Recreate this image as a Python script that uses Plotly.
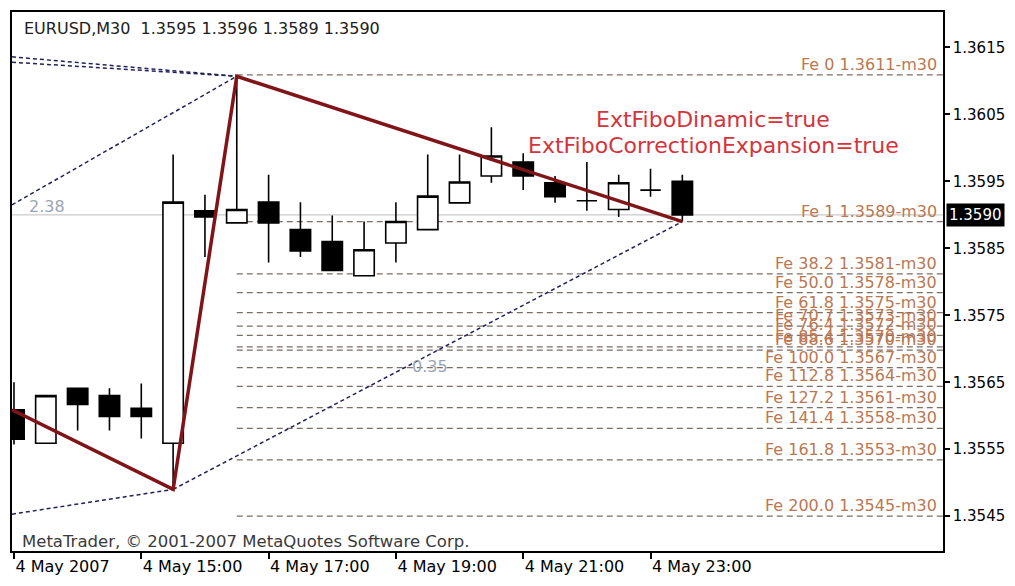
import plotly.graph_objects as go

# ---------------- data ----------------
times = ["13:00", "13:30", "14:00", "14:30", "15:00", "15:30", "16:00", "16:30",
         "17:00", "17:30", "18:00", "18:30", "19:00", "19:30", "20:00", "20:30",
         "21:00", "21:30", "22:00", "22:30", "23:00", "23:30"]
opens = [1.35609, 1.35559, 1.35641, 1.35630, 1.35611, 1.35559, 1.35906, 1.35888,
         1.35919, 1.35878, 1.35860, 1.35809, 1.35858, 1.35878, 1.35918, 1.35958,
         1.35979, 1.35948, 1.35921, 1.35908, 1.35937, 1.35950]
highs = [1.35650, 1.35630, 1.35641, 1.35641, 1.35648, 1.35990, 1.35930, 1.36107,
         1.35960, 1.35919, 1.35899, 1.35890, 1.35919, 1.35990, 1.35990, 1.36031,
         1.35992, 1.35958, 1.35979, 1.35960, 1.35969, 1.35960]
lows = [1.35557, 1.35559, 1.35578, 1.35578, 1.35566, 1.35490, 1.35837, 1.35888,
        1.35829, 1.35837, 1.35817, 1.35809, 1.35829, 1.35878, 1.35918, 1.35948,
        1.35937, 1.35918, 1.35906, 1.35897, 1.35927, 1.35890]
closes = [1.35565, 1.35630, 1.35617, 1.35599, 1.35599, 1.35919, 1.35897, 1.35908,
          1.35888, 1.35846, 1.35817, 1.35848, 1.35890, 1.35928, 1.35949, 1.35988,
          1.35958, 1.35927, 1.35921, 1.35948, 1.35937, 1.35900]

tick_times = ["13:00", "15:00", "17:00", "19:00", "21:00", "23:00"]
tick_labels = ["4 May 2007", "4 May 15:00", "4 May 17:00", "4 May 19:00",
               "4 May 21:00", "4 May 23:00"]
price_ticks = [1.3545, 1.3555, 1.3565, 1.3575, 1.3585, 1.3595, 1.3605, 1.3615]

# zigzag (bar index, price); first point is at the left edge of the window
zigzag_bar = [-0.0625, 5, 7, 21]
zigzag_price = [1.35609, 1.35490, 1.36107, 1.35890]

# dashed helper lines: (bar0, price0, bar1, price1)
helper_lines = [
    (-0.0625, 1.36136, 7, 1.36107),
    (-0.0625, 1.36128, 7, 1.36107),
    (-0.0625, 1.35915, 7, 1.36107),
    (-0.0625, 1.35453, 5, 1.35490),
    (5, 1.35490, 21, 1.35890),
]
helper_texts = [("2.38", 0.40, 1.35912), ("0.35", 12.45, 1.35674)]

fib_names = ["0", "1", "38.2", "50.0", "61.8", "70.7", "76.4", "85.4", "88.6",
             "100.0", "112.8", "127.2", "141.4", "161.8", "200.0"]
fib_prices = [1.36109, 1.35890, 1.35812, 1.35784, 1.35754, 1.35734, 1.35720,
              1.35703, 1.35698, 1.35672, 1.35644, 1.35612, 1.35581, 1.35534, 1.35450]
fib_start_bar = 7

x_range = [-0.0625, 29.19]
y_range = [1.35398, 1.36203]

FONT = "DejaVu Sans"
bars = list(range(len(times)))

fig = go.Figure()

# candles
fig.add_trace(go.Candlestick(
    x=bars, open=opens, high=highs, low=lows, close=closes,
    increasing=dict(line=dict(color="black", width=1.6), fillcolor="white"),
    decreasing=dict(line=dict(color="black", width=1.6), fillcolor="black"),
    whiskerwidth=0, showlegend=False, hoverinfo="skip"))

# helper dashed lines
for b0, p0, b1, p1 in helper_lines:
    fig.add_trace(go.Scatter(
        x=[b0, b1], y=[p0, p1], mode="lines",
        line=dict(color="#22225a", width=1.5, dash="4px,3px"),
        showlegend=False, hoverinfo="skip"))

# zigzag
fig.add_trace(go.Scatter(
    x=zigzag_bar, y=zigzag_price, mode="lines",
    line=dict(color="#801418", width=3.5),
    showlegend=False, hoverinfo="skip"))

# bid line
fig.add_shape(type="line", xref="paper", x0=0, x1=1, yref="y",
              y0=closes[-1], y1=closes[-1],
              line=dict(color="#bdbdbd", width=1), layer="below")

annotations = []
# fib levels
for name, price in zip(fib_names, fib_prices):
    fig.add_shape(type="line", xref="x", yref="y", x0=fib_start_bar, x1=x_range[1],
                  y0=price, y1=price,
                  line=dict(color="#7d6e66", width=1.2, dash="6px,4px"), layer="below")
    annotations.append(dict(
        xref="paper", yref="y", x=1, y=price, xanchor="right", yanchor="bottom",
        xshift=-4, yshift=-1, showarrow=False,
        text=f"Fe {name} {price:.4f}-m30",
        font=dict(family=FONT, size=16, color="#b97852")))

for txt, b, p in helper_texts:
    annotations.append(dict(
        xref="x", yref="y", x=b, y=p, xanchor="left", yanchor="middle",
        showarrow=False, text=txt, font=dict(family=FONT, size=16, color="#9aa6b6")))

# red comment
annotations.append(dict(xref="paper", yref="paper", x=0.753, y=0.80, xanchor="center",
                        yanchor="middle", showarrow=False, text="ExtFiboDinamic=true",
                        font=dict(family=FONT, size=22, color="#d4343c")))
annotations.append(dict(xref="paper", yref="paper", x=0.753, y=0.752, xanchor="center",
                        yanchor="middle", showarrow=False,
                        text="ExtFiboCorrectionExpansion=true",
                        font=dict(family=FONT, size=22, color="#d4343c")))

# header
header = (f"EURUSD,M30\u00a0 {opens[-1]:.4f} {highs[-1]:.4f} "
          f"{lows[-1]:.4f} {closes[-1]:.4f}")
annotations.append(dict(xref="paper", yref="paper", x=0.0107, y=0.970, xanchor="left",
                        yanchor="middle", showarrow=False, text=header,
                        font=dict(family=FONT, size=16, color="#202020")))
annotations.append(dict(xref="paper", yref="paper", x=0.0086, y=0.0185, xanchor="left",
                        yanchor="middle", showarrow=False,
                        text="MetaTrader, © 2001-2007 MetaQuotes Software Corp.",
                        font=dict(family=FONT, size=16.5, color="#3a3a3a")))

# current price box
annotations.append(dict(xref="paper", yref="y", x=1, y=closes[-1], xanchor="left",
                        yanchor="middle", xshift=3, showarrow=False,
                        text=f"{closes[-1]:.4f}", bgcolor="black", borderpad=2,
                        font=dict(family=FONT, size=15, color="white")))

tick_bars = [times.index(t) for t in tick_times]

fig.update_layout(
    width=999, height=570,
    margin=dict(l=2, r=62, t=4, b=26),
    paper_bgcolor="white", plot_bgcolor="white",
    showlegend=False,
    boxgap=0.2, boxgroupgap=0.2,
    annotations=annotations,
    xaxis=dict(range=x_range, tickmode="array", tickvals=tick_bars, ticktext=tick_labels,
               ticks="outside", ticklen=6, tickcolor="black", tickwidth=1.5,
               ticklabelposition="outside right",
               showline=True, mirror=True, linecolor="black", linewidth=1.5,
               showgrid=False, zeroline=False,
               rangeslider=dict(visible=False),
               tickfont=dict(family=FONT, size=16, color="black")),
    yaxis=dict(range=y_range, side="right", tickmode="array", tickvals=price_ticks,
               ticktext=[f"{v:.4f}" for v in price_ticks],
               ticks="outside", ticklen=5, tickcolor="black", tickwidth=1.5,
               showline=True, mirror=True, linecolor="black", linewidth=1.5,
               showgrid=False, zeroline=False,
               tickfont=dict(family=FONT, size=15, color="black")),
)

fig.write_html("out.html")
